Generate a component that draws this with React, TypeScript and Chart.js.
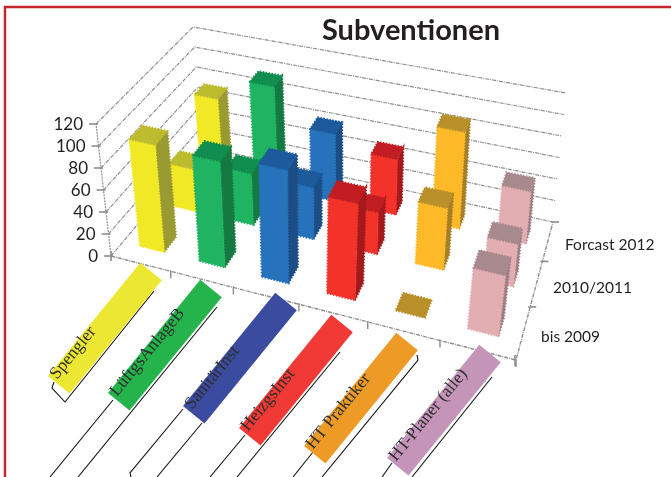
import React, { useEffect, useRef } from "react";
import { Chart, registerables } from "chart.js";
Chart.register(...registerables);

const categories = ["Spengler", "LüftgsAnlageB", "SanitärInst", "HeizgsInst", "HT Praktiker", "HT-Planer (alle)"];
const seriesNames = ["bis 2009", "2010/2011", "Forcast 2012"];
const bis2009 = [98, 96, 102, 86, 0, 53];
const y2010 = [40, 48, 48, 38, 56, 38];
const forecast2012 = [75, 98, 64, 52, 90, 48];
const tickLabels = [0, 20, 40, 60, 80, 100, 120];
const maxValue = 120;

const barFaces = [
  { front: "#F1E925", top: "#BDBB2E", side: "#9A9A33" },
  { front: "#1FB462", top: "#0F8E4F", side: "#157A41" },
  { front: "#2673BC", top: "#1C5A9C", side: "#1C4E85" },
  { front: "#F3322A", top: "#C11D22", side: "#A3191C" },
  { front: "#FDB927", top: "#B99029", side: "#A57F28" },
  { front: "#E3AEB1", top: "#A88A8E", side: "#9D7E85" },
];
const bannerColors = ["#EBE733", "#25B34B", "#3A4BA0", "#F13A35", "#EE9A26", "#C495B9"];
// lower-left and upper-left end of each banner, as [x, y]
const bannerAnchors = [[48, 376], [108, 393], [183, 406], [239, 428], [304, 446], [387, 458]];
const bannerLengths = [146, 146, 146, 146, 146, 146];
const bracketLines = [
  [[154, 291], [65, 402], [52, 388], [54, 382]],
  [[113, 400], [50, 477]],
  [[217, 307], [78, 477]],
  [[183, 409], [130, 473], [131, 477]],
  [[202, 423], [157, 477]],
  [[245, 435], [210, 477]],
  [[340, 352], [237, 477]],
  [[313, 452], [293, 477]],
  [[417, 355], [418, 360], [322, 477]],
  [[392, 463], [382, 477]],
  [[492, 377], [412, 477]],
];

// corners of the plot cube on the page
const FL0 = [111, 256], FR0 = [516, 360], BR0 = [553, 222], BL0 = [203, 147];
const FL1 = [96, 124], FR1 = [534, 220], BR1 = [566, 93], BL1 = [193, 27];
const warp = (t: number, r: number) => t / (t + (1 - t) * r);
const mix = (a: number[], b: number[], t: number) => [a[0] + (b[0] - a[0]) * t, a[1] + (b[1] - a[1]) * t];
function project(u: number, v: number, value: number) {
  const uu = warp(u, 1.155), vv = warp(v, 0.8), w = value / maxValue;
  const floor = mix(mix(FL0, FR0, uu), mix(BL0, BR0, uu), vv);
  const roof = mix(mix(FL1, FR1, uu), mix(BL1, BR1, uu), vv);
  const p = mix(floor, roof, w);
  return { x: p[0], y: p[1] };
}
const HALF_U = 0.0345, HALF_V = 0.06;

function polygon(points: { x: number; y: number }[], color: string, rough = true) {
  return {
    type: "scatter", data: [...points, points[0]], showLine: true, tension: 0, pointRadius: 0,
    fill: "shape", backgroundColor: color, borderColor: color,
    borderWidth: rough ? 1.8 : 0, borderDash: rough ? [1.5, 1.5] : [], clip: false,
  };
}
function stroke(points: { x: number; y: number }[], color: string, width: number, dash: number[] = []) {
  return {
    type: "scatter", data: points, showLine: true, tension: 0, pointRadius: 0, fill: false,
    borderColor: color, borderWidth: width, borderDash: dash, clip: false,
  };
}

function buildDatasets() {
  const out: any[] = [];
  const GRID = "#8E8E8E";
  const dash = [4, 1, 1, 1];
  // walls
  tickLabels.forEach((t) => {
    out.push(stroke([project(0, 0, t), project(0, 1, t), project(1, 1, t)], GRID, 1.2, dash));
  });
  out.push(stroke([project(0, 0, 0), project(0, 0, maxValue)], GRID, 1.2, [2, 1]));
  out.push(stroke([project(0, 0, 0), project(1, 0, 0), project(1, 1, 0)], GRID, 1.4, dash));
  tickLabels.forEach((t) => {
    const p = project(0, 0, t);
    out.push(stroke([{ x: p.x - 7, y: p.y }, { x: p.x + 2, y: p.y }], "#8C8C8C", 1.6));
  });
  categories.forEach((_, i) => {
    const p = project((i + 1) / categories.length, 0, 0);
    out.push(stroke([{ x: p.x, y: p.y - 1 }, { x: p.x, y: p.y + 7 }], "#8C8C8C", 1.4));
  });
  out.push(stroke([{ x: FL0[0], y: FL0[1] - 5 }, { x: FL0[0], y: FL0[1] + 5 }], "#8C8C8C", 1.6));
  seriesNames.forEach((_, i) => {
    const p = project(1, (i + 1) / seriesNames.length, 0);
    out.push(stroke([{ x: p.x - 2, y: p.y }, { x: p.x + 6, y: p.y }], "#8C8C8C", 1.6));
  });
  out.push(stroke([{ x: FR0[0] - 1, y: FR0[1] - 5 }, { x: FR0[0] - 1, y: FR0[1] + 6 }], "#8C8C8C", 1.6));

  // banners and their leader lines
  bracketLines.forEach((b) => out.push(stroke(b.map((p) => ({ x: p[0], y: p[1] })), "#111111", 1.1)));
  const ang = (-50.8 * Math.PI) / 180;
  const dx = Math.cos(ang), dy = Math.sin(ang);
  bannerAnchors.forEach((a, i) => {
    const len = bannerLengths[i];
    const nx = 21.5, ny = 17.5;
    const p0 = { x: a[0], y: a[1] };
    const p1 = { x: a[0] + dx * len, y: a[1] + dy * len };
    const p2 = { x: p1.x + nx, y: p1.y + ny };
    const p3 = { x: p0.x + nx, y: p0.y + ny };
    out.push(polygon([p0, p1, p2, p3], bannerColors[i], false));
  });

  // bars: back row first, left to right
  const rows = [forecast2012, y2010, bis2009];
  rows.forEach((values, r) => {
    const v = (rows.length - 1 - r + 0.5) / rows.length;
    values.forEach((val, c) => {
      const u = (c + 0.5) / categories.length;
      const u0 = u - HALF_U, u1 = u + HALF_U, v0 = v - HALF_V, v1 = v + HALF_V;
      const col = barFaces[c];
      if (val > 0) {
        out.push(polygon([project(u1, v0, 0), project(u1, v1, 0), project(u1, v1, val), project(u1, v0, val)], col.side));
        out.push(polygon([project(u0, v0, 0), project(u1, v0, 0), project(u1, v0, val), project(u0, v0, val)], col.front));
      }
      out.push(polygon([project(u0, v0, val), project(u1, v0, val), project(u1, v1, val), project(u0, v1, val)], col.top));
    });
  });
  // Chart.js paints the last dataset first
  return out.map((d, i) => ({ ...d, order: out.length - i }));
}

const labelPlugin = {
  id: "labels3d",
  afterDatasetsDraw(chart: any) {
    const { ctx, scales } = chart;
    const px = (x: number) => scales.x.getPixelForValue(x);
    const py = (y: number) => scales.y.getPixelForValue(y);
    ctx.save();
    ctx.fillStyle = "#231F20";
    ctx.textBaseline = "alphabetic";
    ctx.textAlign = "center";
    ctx.font = "bold 29px Lato";
    ctx.fillText("Subventionen", px(411), py(40));
    ctx.textAlign = "right";
    ctx.font = "17px Lato";
    tickLabels.forEach((t) => {
      const p = project(0, 0, t);
      ctx.fillText(String(t), px(p.x - 13), py(p.y + 6));
    });
    ctx.textAlign = "left";
    ctx.font = "15.5px Lato";
    const seriesPos = [[541, 342], [553, 293], [565, 250]];
    seriesNames.forEach((s, i) => ctx.fillText(s, px(seriesPos[i][0]), py(seriesPos[i][1])));
    ctx.font = "17.5px 'Liberation Serif'";
    ctx.fillStyle = "#2E2E2E";
    categories.forEach((cat, i) => {
      const a = bannerAnchors[i];
      ctx.save();
      ctx.translate(px(a[0] + 9), py(a[1] + 4));
      ctx.rotate((-50.8 * Math.PI) / 180);
      ctx.fillText(cat, 0, 0);
      ctx.restore();
    });
    ctx.restore();
  },
};

const framePlugin = {
  id: "frame",
  beforeDatasetsDraw(chart: any) {
    const { ctx, scales } = chart;
    ctx.save();
    ctx.strokeStyle = "#C4262E";
    ctx.lineWidth = 2.5;
    ctx.beginPath();
    ctx.moveTo(scales.x.getPixelForValue(5), scales.y.getPixelForValue(477));
    ctx.lineTo(scales.x.getPixelForValue(5), scales.y.getPixelForValue(7));
    ctx.lineTo(scales.x.getPixelForValue(671), scales.y.getPixelForValue(7));
    ctx.stroke();
    ctx.restore();
  },
};

export default function App() {
  const ref = useRef<HTMLCanvasElement>(null);
  useEffect(() => {
    const chart = new Chart(ref.current!, {
      type: "scatter",
      data: { datasets: buildDatasets() },
      options: {
        animation: false,
        responsive: false,
        devicePixelRatio: 1,
        layout: { padding: 0 },
        plugins: { legend: { display: false }, tooltip: { enabled: false }, title: { display: false } },
        scales: {
          x: { type: "linear", min: 0, max: 671, display: false },
          y: { type: "linear", min: 0, max: 477, reverse: true, display: false },
        },
      } as any,
      plugins: [framePlugin, labelPlugin],
    } as any);
    return () => chart.destroy();
  }, []);
  return (
    <div style={{ position: "fixed", left: 0, top: 0, width: 671, height: 477, background: "#fff" }}>
      <canvas ref={ref} width={671} height={477} style={{ display: "block" }} />
    </div>
  );
}
